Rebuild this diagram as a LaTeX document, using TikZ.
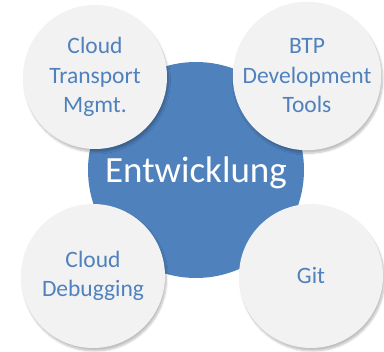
\documentclass[tikz,border=0pt]{standalone}
\usepackage{fontspec}
\setmainfont{Carlito}
\usetikzlibrary{positioning, shadows.blur}

\definecolor{officeBlue}{HTML}{4F81BD}
\definecolor{bubbleGrey}{HTML}{F2F2F2}

\tikzset{
	topicCircle/.style={circle, fill=bubbleGrey, minimum size=144pt, inner sep=0pt,
		align=center, text=officeBlue, font=\fontsize{23.5}{29.5}\selectfont,
		blur shadow={shadow xshift=1.5pt, shadow yshift=-3pt, shadow blur steps=6, shadow opacity=25}},
	hubCircle/.style={circle, fill=officeBlue, minimum size=216pt, inner sep=0pt,
		text=white, font=\fontsize{37}{42}\selectfont}
}

\begin{document}
\begin{tikzpicture}[x=1pt, y=-1pt]
			
			\useasboundingbox (0,0) rectangle (384,352);
			
			%Center circle
			\node (entwicklung) at (196,170) [hubCircle, text depth=0pt]{Entwicklung};
			
			%Topic circles
			\node (transportMgmt) at (95,77) [topicCircle]{Cloud\\Transport\\Mgmt.};
			\node (devTools) at (307,76) [topicCircle]{BTP\\Development\\Tools};
			\node (debugging) at (93,276) [topicCircle]{Cloud\\Debugging};
			\node (git) at (311,276) [topicCircle]{Git};
			
\end{tikzpicture}
\end{document}
